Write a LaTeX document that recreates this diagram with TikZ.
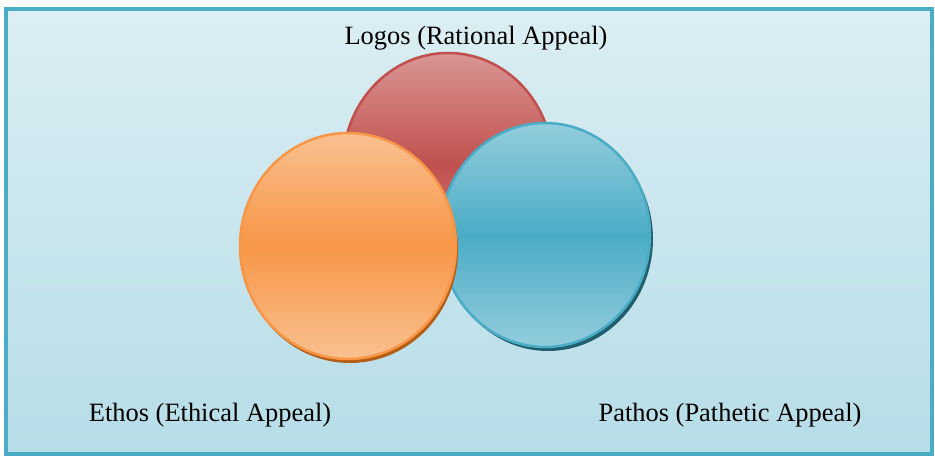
\documentclass[tikz,border=0pt]{standalone}
\usepackage{fontspec}
\setmainfont{Liberation Serif}
\usepackage{xcolor}

\definecolor{framecol}{HTML}{4BACC6}
\definecolor{bgtop}{HTML}{DBEEF3}
\definecolor{bgbot}{HTML}{B6DDE8}
\definecolor{redlight}{HTML}{DA9694}
\definecolor{reddark}{HTML}{C0504D}
\definecolor{redline}{HTML}{C0504D}
\definecolor{orlight}{HTML}{FAC090}
\definecolor{ordark}{HTML}{F79646}
\definecolor{orshadow}{HTML}{B35E14}
\definecolor{bllight}{HTML}{93CDDD}
\definecolor{bldark}{HTML}{4BACC6}
\definecolor{blshadow}{HTML}{215E6E}

\tikzset{
  appeal/.style={font=\fontsize{18.8pt}{22pt}\selectfont,inner sep=0pt},
  rim/.style={line width=1.8pt}
}

\begin{document}
\begin{tikzpicture}[x=0.025cm,y=-0.025cm]
            \useasboundingbox (0,0) rectangle (935,457);

            % background and frame
            \shade[top color=bgtop,bottom color=bgbot] (6,9) rectangle (932,454);
            \draw[framecol,line width=3.5pt] (6,9) rectangle (932,454);

            % logos
            \shade[top color=redlight,bottom color=redlight,middle color=reddark] (448,165) ellipse (105 and 112);
            \draw[rim,redline] (448,165) ellipse (105 and 112);

            % pathos
            \fill[blshadow] (548,239) ellipse (105 and 112);
            \shade[top color=bllight,bottom color=bllight,middle color=bldark] (545,235) ellipse (105 and 112);
            \draw[rim,bldark] (545,235) ellipse (105 and 112);

            % ethos
            \fill[orshadow] (350,250) ellipse (108 and 113);
            \shade[top color=orlight,bottom color=orlight,middle color=ordark] (348,246) ellipse (108 and 113);
            \draw[rim,ordark] (348,246) ellipse (108 and 113);

            \node (logos) at (476,38) [appeal] {Logos (Rational Appeal)};
            \node (ethos) at (210,415) [appeal] {Ethos (Ethical Appeal)};
            \node (pathos) at (730,415) [appeal] {Pathos (Pathetic Appeal)};

        \end{tikzpicture}
\end{document}
